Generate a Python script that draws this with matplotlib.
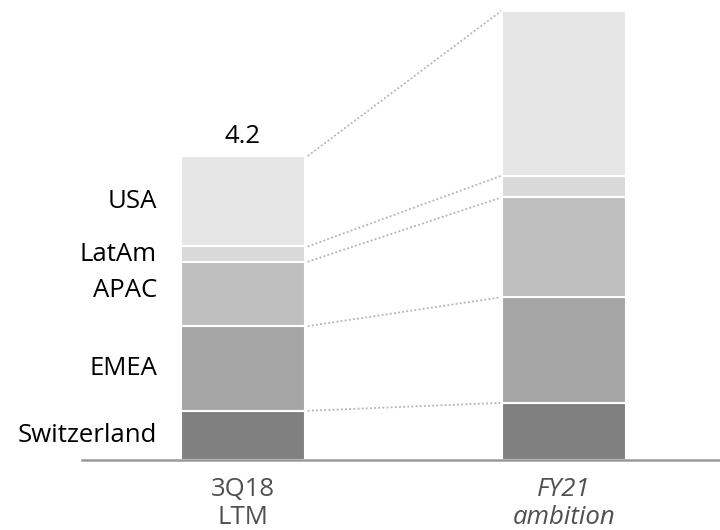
import matplotlib.pyplot as plt
import numpy as np

plt.rcParams['font.family'] = ['Open Sans', 'DejaVu Sans']

# revenue split by region (bottom to top)
regions = ['Switzerland', 'EMEA', 'APAC', 'LatAm', 'USA']
ltm_3q18 = [0.68, 1.17, 0.89, 0.21, 1.25]
fy21_ambition = [0.79, 1.46, 1.38, 0.30, 2.28]
period_labels = ['3Q18\nLTM', 'FY21\nambition']
total_label = '4.2'

colors = ['#808080', '#a6a6a6', '#bfbfbf', '#d9d9d9', '#e6e6e6']

fig = plt.figure(figsize=(7.2, 5.3), dpi=100)
ax = fig.add_axes([81.7 / 720, 70 / 530, 1 - 81.7 / 720, 460 / 530])

width = 0.386
x = np.array([0, 1])

bottoms = np.zeros(2)
for i, name in enumerate(regions):
    vals = np.array([ltm_3q18[i], fy21_ambition[i]])
    ax.bar(x, vals, width, bottom=bottoms, color=colors[i],
           edgecolor='white', linewidth=1.5, zorder=2)
    bottoms += vals

# dotted connectors between the cumulative levels of both bars
cum1 = np.cumsum(ltm_3q18)
cum2 = np.cumsum(fy21_ambition)
for a, b in zip(cum1, cum2):
    ax.plot([width / 2 + 0.01, 1 - width / 2], [a, b], color='#b3b3b3',
            linestyle=(0, (1, 1.3)), linewidth=1.3, zorder=1)

# region names next to the first bar
offsets = [0.0, 0.0, 0.05, 0.0, 0.0]
lo = 0
for name, v, dy in zip(regions, ltm_3q18, offsets):
    ax.text(-width / 2 - 0.073, lo + v / 2 + dy, name, ha='right', va='center',
            fontsize=18.5, color='#000000')
    lo += v

ax.text(0, cum1[-1] + 0.1, total_label, ha='center', va='bottom',
        fontsize=18.5, color='#000000')

ax.set_xlim(-0.5005, 1.486)
ax.set_ylim(0, 460 / 72.38)
ax.set_xticks(x)
ax.set_xticklabels(period_labels, fontsize=18.5, color='#505050', linespacing=1.2)
ax.get_xticklabels()[1].set_style('italic')
ax.tick_params(axis='x', length=0, pad=12)
ax.set_yticks([])
for s in ['top', 'left', 'right']:
    ax.spines[s].set_visible(False)
ax.spines['bottom'].set_color('#999999')
ax.spines['bottom'].set_linewidth(1.8)
ax.spines['bottom'].set_zorder(3)

fig.savefig('out.png', dpi=100)
